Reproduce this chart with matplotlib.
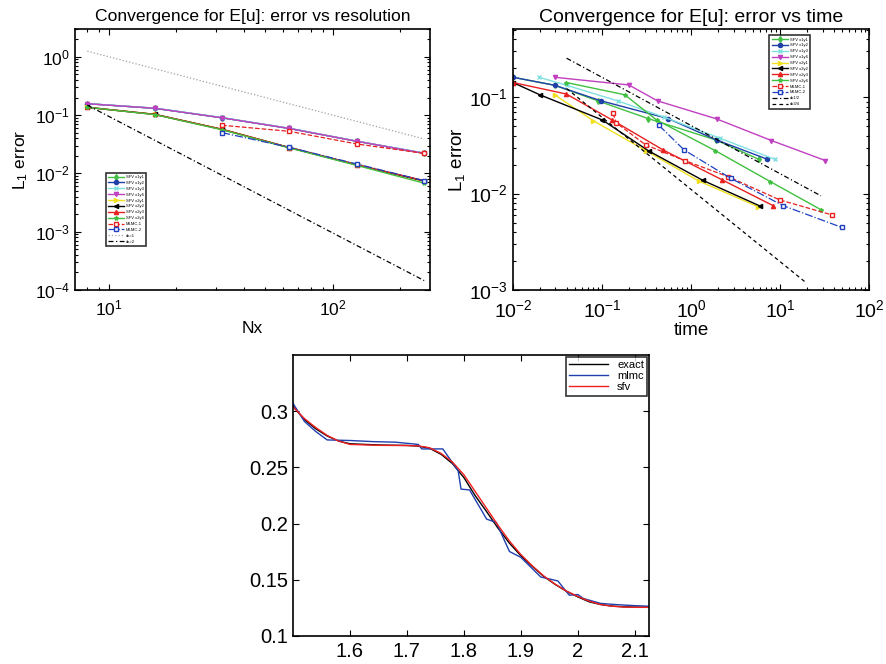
import numpy as np
import matplotlib
matplotlib.use('Agg')
import matplotlib.pyplot as plt
from matplotlib.ticker import FixedLocator

plt.rcParams['font.family'] = ['Liberation Sans', 'DejaVu Sans']
plt.rcParams['mathtext.fontset'] = 'custom'
plt.rcParams['mathtext.rm'] = 'Liberation Sans'
plt.rcParams['mathtext.it'] = 'Liberation Sans:italic'

# ---------------- data: error vs resolution ----------------
nx = [8, 16, 32, 64, 128, 256]
res_x1y1 = [0.157, 0.131, 0.090, 0.059, 0.0356, 0.0221]
res_x1y2 = [0.157, 0.131, 0.090, 0.059, 0.0356, 0.0222]
res_x1y3 = [0.158, 0.132, 0.091, 0.0595, 0.0358, 0.0224]
res_x1y6 = [0.157, 0.131, 0.090, 0.059, 0.0356, 0.0221]
res_x2y1 = [0.136, 0.103, 0.057, 0.0277, 0.0140, 0.0073]
res_x2y2 = [0.136, 0.103, 0.057, 0.0277, 0.0140, 0.0074]
res_x2y3 = [0.136, 0.103, 0.057, 0.0277, 0.0141, 0.0075]
res_x2y6 = [0.136, 0.102, 0.056, 0.0273, 0.0137, 0.0068]
nx_mlmc = [32, 64, 128, 256]
res_mlmc1 = [0.067, 0.0527, 0.032, 0.022]
res_mlmc2 = [0.050, 0.028, 0.0145, 0.0075]
nx_ref = [8, 256]
res_ref1 = [1.25, 0.039]
res_ref2 = [0.148, 0.000145]

# ---------------- data: error vs time ----------------
t_x1y1 = [0.01, 0.0294, 0.09, 0.33, 1.9, 5.76]
e_x1y1 = [0.161, 0.133, 0.0916, 0.060, 0.036, 0.0227]
t_x1y2 = [0.01, 0.0294, 0.098, 0.552, 1.93, 7.2]
e_x1y2 = [0.161, 0.133, 0.0916, 0.060, 0.036, 0.0227]
t_x1y3 = [0.0196, 0.04, 0.15, 0.5, 2.1, 8.7]
e_x1y3 = [0.161, 0.133, 0.0916, 0.062, 0.0376, 0.0227]
t_x1y6 = [0.0294, 0.2, 0.42, 1.93, 8.0, 32.3]
e_x1y6 = [0.161, 0.134, 0.0916, 0.0596, 0.0355, 0.022]
t_x2y1 = [0.0294, 0.079, 0.315, 1.22, 5.66]
e_x2y1 = [0.106, 0.0573, 0.0277, 0.0135, 0.0073]
t_x2y2 = [0.01, 0.02, 0.101, 0.334, 1.36, 6.0]
e_x2y2 = [0.142, 0.106, 0.058, 0.0277, 0.0137, 0.0074]
t_x2y3 = [0.01, 0.0397, 0.13, 0.484, 2.23, 8.34]
e_x2y3 = [0.142, 0.108, 0.058, 0.0284, 0.0139, 0.0075]
t_x2y6 = [0.0397, 0.18, 0.41, 1.87, 7.78, 29.1]
e_x2y6 = [0.142, 0.106, 0.058, 0.0279, 0.0133, 0.00676]
t_mlmc1 = [0.133, 0.145, 0.309, 0.85, 2.6, 9.9, 38.4]
e_mlmc1 = [0.068, 0.054, 0.032, 0.022, 0.015, 0.0086, 0.006]
t_mlmc2 = [0.436, 0.834, 2.79, 10.8, 48.9]
e_mlmc2 = [0.051, 0.0284, 0.0144, 0.0075, 0.00447]
t_ref12 = [0.04, 28.8]
e_ref12 = [0.254, 0.00947]
t_ref34 = [0.04, 20.0]
e_ref34 = [0.123, 0.00117]

# ---------------- data: solution profile ----------------
xs = [1.50, 1.52, 1.54, 1.56, 1.58, 1.60, 1.65, 1.70, 1.72, 1.74, 1.76, 1.78,
      1.80, 1.82, 1.84, 1.86, 1.88, 1.90, 1.92, 1.94, 1.96, 1.98, 2.00, 2.02,
      2.04, 2.06, 2.08, 2.10, 2.125]
u_exact = [0.3044, 0.2926, 0.2844, 0.278, 0.2735, 0.2711, 0.270, 0.2696, 0.269,
           0.267, 0.2617, 0.2534, 0.241, 0.2248, 0.2106, 0.1959, 0.1826, 0.1714,
           0.162, 0.1531, 0.146, 0.1398, 0.1348, 0.1304, 0.128, 0.1266, 0.126,
           0.1257, 0.1257]
u_sfv = [0.304, 0.2935, 0.2855, 0.2785, 0.2735, 0.2705, 0.2697, 0.2695, 0.2692,
         0.2675, 0.2625, 0.2548, 0.2435, 0.2285, 0.2135, 0.1985, 0.1845, 0.1725,
         0.1625, 0.1535, 0.1462, 0.140, 0.1352, 0.131, 0.128, 0.1265, 0.1258,
         0.1255, 0.1255]
xs_mlmc = [1.50, 1.52, 1.54, 1.56, 1.60, 1.64, 1.68, 1.72, 1.726, 1.75, 1.763,
           1.79, 1.795, 1.81, 1.84, 1.857, 1.88, 1.90, 1.935, 1.965, 1.985, 2.0,
           2.01, 2.04, 2.065, 2.1, 2.125]
u_mlmc = [0.307, 0.291, 0.282, 0.2745, 0.274, 0.273, 0.2725, 0.2705, 0.2665,
          0.2665, 0.2665, 0.247, 0.2307, 0.23, 0.204, 0.201, 0.1752, 0.170,
          0.1525, 0.149, 0.1363, 0.1369, 0.1333, 0.129, 0.128, 0.127, 0.1265]

labels = ['SFV x1y1', 'SFV x1y2', 'SFV x1y3', 'SFV x1y6', 'SFV x2y1', 'SFV x2y2',
          'SFV x2y3', 'SFV x2y6', 'MLMC-1', 'MLMC-2']

styles = [
    dict(color='#44c044', marker='d', ls='-', lw=1.0),
    dict(color='#2040a8', marker='o', ls='-', lw=1.0),
    dict(color='#80e0e0', marker='x', ls='-', lw=1.0),
    dict(color='#c040c0', marker='v', ls='-', lw=1.0),
    dict(color='#f0e020', marker='>', ls='-', lw=1.0),
    dict(color='#000000', marker='<', ls='-', lw=1.0),
    dict(color='#e82020', marker='^', ls='-', lw=1.0),
    dict(color='#40c040', marker='*', ls='-', lw=1.0),
    dict(color='#e82020', marker='s', ls='--', lw=0.9, mfc='white'),
    dict(color='#2040c0', marker='s', ls='-.', lw=0.9, mfc='white'),
]

fig = plt.figure(figsize=(8.86, 6.64), dpi=100)

def matlab_axes(ax, size):
    ax.tick_params(which='both', direction='in', top=True, right=True,
                   labelsize=size, width=0.8)
    ax.tick_params(which='major', length=4)
    ax.tick_params(which='minor', length=2)
    ax.tick_params(axis='x', which='both', pad=6)
    for s in ax.spines.values():
        s.set_linewidth(1.2)

def legend_style(leg):
    leg.get_frame().set_linewidth(1.2)

# ---- left: error vs resolution ----
ax1 = fig.add_axes([0.0847, 0.5633, 0.4007, 0.393])
res_series = [res_x1y1, res_x1y2, res_x1y3, res_x1y6, res_x2y1, res_x2y2,
              res_x2y3, res_x2y6]
for vals, lab, st in zip(res_series, labels[:8], styles[:8]):
    ax1.loglog(nx, vals, label=lab, ms=3, **st)
ax1.loglog(nx_mlmc, res_mlmc1, label=labels[8], ms=3, **styles[8])
ax1.loglog(nx_mlmc, res_mlmc2, label=labels[9], ms=3, **styles[9])
ax1.loglog(nx_ref, res_ref1, ls=':', color='#a0a0a0', lw=0.9, label='dx=1')
ax1.loglog(nx_ref, res_ref2, ls=(0, (4, 2, 1, 2)), color='#000000', lw=0.9, label='dx=2')
ax1.set_xlim(7.05, 272)
ax1.set_ylim(1e-4, 3)
ax1.yaxis.set_major_locator(FixedLocator([1e-4, 1e-3, 1e-2, 1e-1, 1e0]))
ax1.set_title('Convergence for E[u]: error vs resolution', fontsize=12.6, pad=6)
ax1.set_xlabel('Nx', fontsize=12.5, labelpad=2)
ax1.set_ylabel('L$_1$ error', fontsize=12.5)
matlab_axes(ax1, 12.5)
leg1 = ax1.legend(loc='lower left', bbox_to_anchor=(0.08, 0.16), fontsize=3.0,
                  frameon=True, fancybox=False, edgecolor='black',
                  borderpad=0.6, labelspacing=0.45, handlelength=3.8,
                  handletextpad=0.5)
legend_style(leg1)

# ---- right: error vs time ----
ax2 = fig.add_axes([0.579, 0.5633, 0.402, 0.393])
time_series = [(t_x1y1, e_x1y1), (t_x1y2, e_x1y2), (t_x1y3, e_x1y3),
               (t_x1y6, e_x1y6), (t_x2y1, e_x2y1), (t_x2y2, e_x2y2),
               (t_x2y3, e_x2y3), (t_x2y6, e_x2y6), (t_mlmc1, e_mlmc1),
               (t_mlmc2, e_mlmc2)]
for (tt, ee), lab, st in zip(time_series, labels, styles):
    ax2.loglog(tt, ee, label=lab, ms=3, **st)
ax2.loglog(t_ref12, e_ref12, ls=(0, (4, 2, 1, 2)), color='#000000', lw=0.9, label='dx1/2')
ax2.loglog(t_ref34, e_ref34, ls=(0, (3, 2.5)), color='#000000', lw=0.9, label='dx3/4')
ax2.set_xlim(1e-2, 1e2)
ax2.set_ylim(1e-3, 0.51)
ax2.set_title('Convergence for E[u]: error vs time', fontsize=14.0, pad=5)
ax2.set_xlabel('time', fontsize=13.5, labelpad=0)
ax2.set_ylabel('L$_1$ error', fontsize=13.5, labelpad=2)
matlab_axes(ax2, 14.0)
ax2.tick_params(axis='x', which='both', pad=7)
leg2 = ax2.legend(loc='upper right', bbox_to_anchor=(0.84, 0.985), fontsize=3.0,
                  frameon=True, fancybox=False, edgecolor='black',
                  borderpad=0.6, labelspacing=0.45, handlelength=3.8,
                  handletextpad=0.5)
legend_style(leg2)

# ---- bottom: profile ----
ax3 = fig.add_axes([0.3307, 0.0422, 0.4018, 0.423])
ax3.plot(xs, u_exact, color='black', lw=1.0, label='exact')
ax3.plot(xs_mlmc, u_mlmc, color='#2040b0', lw=1.0, label='mlmc')
ax3.plot(xs, u_sfv, color='#f02020', lw=1.0, label='sfv')
ax3.set_xlim(1.5, 2.125)
ax3.set_ylim(0.1, 0.35)
ax3.set_xticks([1.6, 1.7, 1.8, 1.9, 2.0, 2.1])
ax3.set_xticklabels(['1.6', '1.7', '1.8', '1.9', '2', '2.1'])
ax3.set_yticks([0.1, 0.15, 0.2, 0.25, 0.3])
ax3.set_yticklabels(['0.1', '0.15', '0.2', '0.25', '0.3'])
matlab_axes(ax3, 14.5)
ax3.tick_params(axis='x', which='both', pad=4)
leg3 = ax3.legend(loc='upper right', fontsize=8, frameon=True, fancybox=False,
                  edgecolor='black', borderpad=0.3, labelspacing=0.1,
                  handlelength=3.5, borderaxespad=0.15)
legend_style(leg3)

fig.savefig('out.png', dpi=100)
